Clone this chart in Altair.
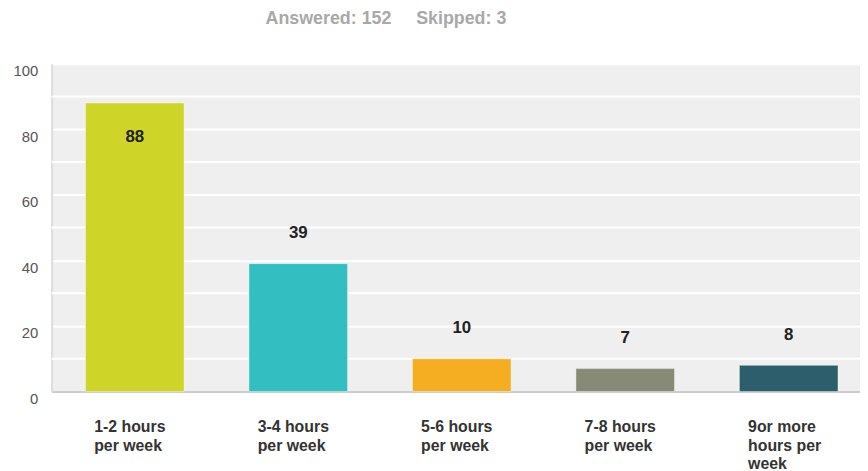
import altair as alt
import pandas as pd

categories = ["1-2 hours\nper week", "3-4 hours\nper week", "5-6 hours\nper week",
              "7-8 hours\nper week", "9or more\nhours per\nweek"]
values = [88, 39, 10, 7, 8]
colors = ["#cfd428", "#33bec1", "#f5ae22", "#888a78", "#2c5f6b"]
inside = [True, False, False, False, False]
y_ticks = [0, 20, 40, 60, 80, 100]
minor_grid = [10, 30, 50, 70, 90]

df = pd.DataFrame({"cat": categories, "value": values, "inside": inside})

font = "Liberation Sans"
shift = 6

x = alt.X("cat:N", sort=categories,
          scale=alt.Scale(paddingInner=0.397, paddingOuter=0.171),
          axis=alt.Axis(title=None, labelAngle=0, labelAlign="left", labelOffset=-35,
                        labelExpr="split(datum.label, '\\n')", labelFont=font,
                        labelFontSize=16, labelFontWeight="bold", labelColor="#333333",
                        labelLineHeight=19, labelPadding=35, labelBaseline="middle",
                        ticks=False, domainColor="#cccccc", domainWidth=2, grid=False))
y = alt.Y("value:Q", scale=alt.Scale(domain=[0, 100], nice=False),
          axis=alt.Axis(title=None, values=y_ticks, labelFont=font, labelFontSize=15,
                        labelColor="#555555", labelPadding=14, labelOffset=7,
                        ticks=False, domainColor="#dddddd", domainWidth=2,
                        grid=True, gridColor="#ffffff", gridWidth=2))

bars = alt.Chart(df).mark_bar(stroke="#ffffff", strokeOpacity=0.4, strokeWidth=1,
                              xOffset=shift).encode(
    x=x, y=y,
    color=alt.Color("cat:N", sort=categories,
                    scale=alt.Scale(domain=categories, range=colors), legend=None),
)

grid10 = alt.Chart(pd.DataFrame({"g": minor_grid})).mark_rule(
    color="#ffffff", strokeWidth=2).encode(y=alt.Y("g:Q", scale=alt.Scale(domain=[0, 100])))

lab_in = alt.Chart(df).transform_filter("datum.inside").mark_text(
    font=font, fontSize=17, fontWeight="bold", color="#222222", dy=34, baseline="middle",
    xOffset=shift
).encode(x=alt.X("cat:N", sort=categories), y="value:Q", text="value:Q")
lab_out = alt.Chart(df).transform_filter("!datum.inside").mark_text(
    font=font, fontSize=17, fontWeight="bold", color="#222222", dy=-31, baseline="middle",
    xOffset=shift
).encode(x=alt.X("cat:N", sort=categories), y="value:Q", text="value:Q")

chart = alt.layer(grid10, bars, lab_in, lab_out).properties(
    width=816, height=331,
    background="#ffffff",
    title=alt.TitleParams("Answered: 152\u00a0\u00a0\u00a0\u00a0 Skipped: 3", anchor="start",
                          dx=255, font=font, fontSize=18, fontWeight="bold",
                          color="#a8a8a8", offset=36),
    autosize=alt.AutoSizeParams(type="none"),
    padding={"left": 44, "top": 54, "right": 0, "bottom": 78},
).configure_view(fill="#efefef", strokeWidth=0)

chart.save("out.html", embed_options={"renderer": "svg", "actions": False})
